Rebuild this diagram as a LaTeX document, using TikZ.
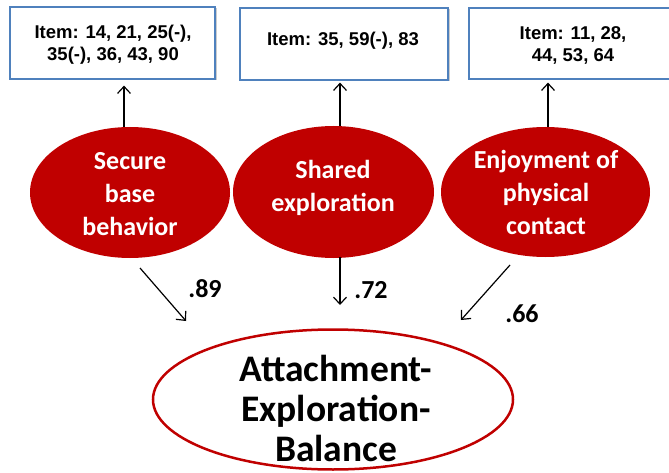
\documentclass[tikz,border=0pt]{standalone}
\usepackage{fontspec}
\setmainfont{Carlito}
\newfontfamily\arialfont{Liberation Sans}
\usetikzlibrary{shapes.geometric,arrows.meta,shadows}
\definecolor{dred}{HTML}{C00000}
\definecolor{bblue}{HTML}{4F81BD}
\begin{document}
\begin{tikzpicture}[x=1pt,y=-1pt,
  itembox/.style={rectangle, draw=bblue, line width=1.2pt, fill=white, inner sep=0pt,
    drop shadow={shadow xshift=1.5pt, shadow yshift=-1.5pt, fill=black, opacity=0.2}},
  itemtext/.style={font=\arialfont\bfseries\fontsize{18.5}{22}\selectfont, align=center, inner sep=0pt},
  latent/.style={ellipse, fill=dred, inner sep=0pt, minimum width=200pt, minimum height=131pt},
  latenttext/.style={text=white, font=\bfseries\fontsize{26}{33}\selectfont, align=center, inner sep=0pt},
  coef/.style={font=\bfseries\fontsize{26}{30}\selectfont, inner sep=0pt},
  outcome/.style={ellipse, draw=dred, line width=2.5pt, fill=white, inner sep=0pt,
    minimum width=360pt, minimum height=140pt},
  outtext/.style={font=\bfseries\fontsize{37.5}{40}\selectfont, align=center, inner sep=0pt},
  conn/.style={line width=1.2pt, -{Straight Barb[length=7pt,width=13pt]}}]
\useasboundingbox (0,0) rectangle (669,473);

% indicator boxes
\node[itembox, minimum width=205pt, minimum height=72pt] (b1) at (112.5,43) {};
\node[itembox, minimum width=208pt, minimum height=72pt] (b2) at (344,44) {};
\node[itembox, minimum width=205pt, minimum height=71pt] (b3) at (571.5,43.5) {};
\node[itemtext] (t1) at (113,45) {Item: 14, 21, 25(-),\\35(-), 36, 43, 90};
\node[itemtext] (t2) at (343,41) {Item: 35, 59(-), 83};
\node[itemtext] (t3) at (573,45) {Item: 11, 28,\\44, 53, 64};

% latent factors
\node[latent] (e1) at (130,192.5) {};
\node[latent, minimum width=201pt, minimum height=132pt] (e2) at (333.5,192) {};
\node[latent, minimum width=209pt, minimum height=130pt] (e3) at (545.5,192) {};
\node[latenttext] (l1) at (130,194) {Secure\\base\\behavior};
\node[latenttext] (l2) at (333,188) {Shared\\exploration};
\node[latenttext] (l3) at (546,192.5) {Enjoyment of\\physical\\contact};

% outcome
\node[outcome] (att) at (333,399.5) {};
\node[outtext] (lo) at (336,408) {Attachment-\\Exploration-\\Balance};

% arrows to items
\draw[conn, shorten >=6pt] ([xshift=-6pt]e1.north) -- ([xshift=-6pt]e1.north |- b1.south);
\draw[conn, shorten >=2pt] ([xshift=6.5pt]e2.north) -- ([xshift=6.5pt]e2.north |- b2.south);
\draw[conn, shorten >=3pt] ([xshift=2.5pt]e3.north) -- ([xshift=2.5pt]e3.north |- b3.south);

% arrows to outcome
\coordinate (s1) at (140,268);
\coordinate (f1) at (186,321);
\coordinate (s2) at (340,257);
\coordinate (f2) at (340,305);
\coordinate (s3) at (510,265);
\coordinate (f3) at (461,320);
\draw[conn] (s1) -- (f1);
\draw[conn] (s2) -- (f2);
\draw[conn] (s3) -- (f3);

% coefficients
\node[coef] (c1) at (205,289) {.89};
\node[coef] (c2) at (371,290) {.72};
\node[coef] (c3) at (522,314) {.66};
\end{tikzpicture}
\end{document}
